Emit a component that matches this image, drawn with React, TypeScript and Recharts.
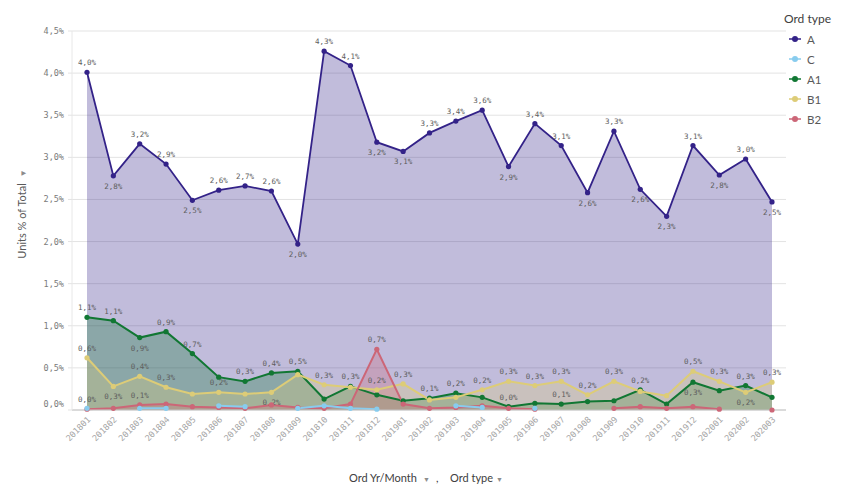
import React from 'react';
import { ComposedChart, Area, Line, XAxis, YAxis, CartesianGrid, Legend } from 'recharts';

const months = ['201801','201802','201803','201804','201805','201806','201807','201808','201809','201810','201811','201812','201901','201902','201903','201904','201905','201906','201907','201908','201909','201910','201911','201912','202001','202002','202003'];
const seriesA = [4.01,2.78,3.16,2.92,2.49,2.61,2.66,2.60,1.97,4.26,4.09,3.18,3.07,3.29,3.43,3.56,2.89,3.40,3.14,2.58,3.31,2.62,2.30,3.14,2.79,2.98,2.47];
const seriesC: (number | null)[] = [0.02,null,0.02,0.02,null,0.05,0.04,null,0.02,0.05,0.02,0.01,null,null,0.05,0.03,null,0.02,null,null,null,null,null,null,null,null,null];
const seriesA1 = [1.10,1.06,0.86,0.93,0.67,0.39,0.34,0.44,0.46,0.13,0.28,0.18,0.11,0.14,0.20,0.15,0.04,0.08,0.07,0.10,0.11,0.24,0.07,0.33,0.23,0.29,0.15];
const seriesB1 = [0.62,0.28,0.40,0.27,0.19,0.21,0.19,0.21,0.42,0.30,0.27,0.24,0.31,0.12,0.15,0.24,0.34,0.29,0.34,0.18,0.34,0.22,0.17,0.46,0.34,0.21,0.33];
const seriesB2: (number | null)[] = [0.01,0.02,0.06,0.07,0.04,0.03,0.02,0.06,0.03,0.02,0.07,0.72,0.07,0.02,0.03,0.05,0.02,0.01,null,null,0.02,0.04,0.02,0.04,0.01,null,0.0];
const yTicks = [0,0.5,1,1.5,2,2.5,3,3.5,4,4.5];

// which data labels are shown for the lower series: a = above, b = below
const labelsA1 = ['a','a','b','a','a','','a','a','a','','a','','','a','a','','a','','a','','','a','','b','','a',''];
const labelsB1 = ['a','b','a','a','','a','','b','','a','','a','a','','','a','a','a','a','a','a','','','a','a','b','a'];
const labelsB2 = ['a','','a','','','','','','','','','a','','','','','','','','','','','','','','',''];
const labelsC = months.map(() => '');

const seriesNames = ['A','C','A1','B1','B2'];
const drawOrder = ['A','A1','B1','B2','C'];
const colors: Record<string,string> = { A: '#332288', C: '#88ccee', A1: '#117733', B1: '#ddcc77', B2: '#cc6677' };

const data = months.map((m, i) => ({
  month: m,
  A: seriesA[i],
  C: seriesC[i],
  A1: seriesA1[i],
  B1: seriesB1[i],
  B2: seriesB2[i],
}));

const fmt = (v: number) => v.toFixed(1).replace('.', ',') + '%';

const placeA = (i: number) => {
  const v = seriesA[i];
  const p = seriesA[i - 1];
  const n = seriesA[i + 1];
  if (p === undefined) return v >= n ? 'a' : 'b';
  if (n === undefined) return v >= p ? 'a' : 'b';
  return v >= (p + n) / 2 ? 'a' : 'b';
};

const labelPlacement: Record<string, (i: number) => string> = {
  A: placeA,
  C: (i) => labelsC[i],
  A1: (i) => labelsA1[i],
  B1: (i) => labelsB1[i],
  B2: (i) => labelsB2[i],
};

const makeDot = (key: string) => (props: any) => {
  const { cx, cy, index, payload } = props;
  const v = payload ? payload[key] : null;
  if (v == null || cx == null || cy == null || Number.isNaN(cy)) return <g key={`d-${key}-${index}`} />;
  const pl = labelPlacement[key](index);
  return (
    <g key={`d-${key}-${index}`}>
      <circle cx={cx} cy={cy} r={2.6} fill={colors[key]} />
      {pl ? (
        <text
          x={cx}
          y={pl === 'a' ? cy - 7 : cy + 13}
          textAnchor="middle"
          fontFamily="'DejaVu Sans Mono', monospace"
          fontSize={7.5}
          fill="#5e5e5e"
        >
          {fmt(v)}
        </text>
      ) : null}
    </g>
  );
};

const YTick = (props: any) => {
  const { x, y, payload } = props;
  return (
    <text
      x={x}
      y={payload.value === 0 ? y - 6 : y}
      dy="0.35em"
      textAnchor="end"
      fontFamily="'DejaVu Sans Mono', monospace"
      fontSize={8.5}
      fill="#7a7a7a"
    >
      {fmt(payload.value)}
    </text>
  );
};

const XTick = (props: any) => {
  const { x, payload } = props;
  const ty = 418;
  return (
    <text
      x={x + 2}
      y={ty}
      dy="0.35em"
      textAnchor="end"
      transform={`rotate(-45 ${x + 2} ${ty})`}
      fontFamily="'DejaVu Sans Mono', monospace"
      fontSize={8.5}
      fill="#a6a6a6"
    >
      {payload.value}
    </text>
  );
};

const LegendContent = () => (
  <div style={{ fontFamily: 'Lato, sans-serif', color: '#595959' }}>
    <div style={{ fontSize: 12, color: '#404040', height: 20, lineHeight: '20px' }}>Ord type</div>
    {seriesNames.map((n) => (
      <div key={n} style={{ display: 'flex', alignItems: 'center', height: 20, fontSize: 11.5 }}>
        <svg width={14} height={10} style={{ marginLeft: 4, marginRight: 5 }}>
          <line x1={1} y1={5} x2={13} y2={5} stroke={colors[n]} strokeWidth={1.5} />
          <circle cx={7} cy={5} r={3} fill={colors[n]} />
        </svg>
        <span>{n}</span>
      </div>
    ))}
  </div>
);

const YTitle = () => (
  <text
    transform="translate(26 214) rotate(-90)"
    textAnchor="middle"
    fontFamily="Lato, sans-serif"
    fontSize={11}
    fill="#595959"
  >
    Units % of Total<tspan fontSize={8} fill="#8c8c8c" dx={6}>▼</tspan>
  </text>
);

const XTitle = () => (
  <text y={482} fontFamily="Lato, sans-serif" fontSize={11} fill="#404040">
    <tspan x={349}>Ord Yr/Month</tspan>
    <tspan x={423} fontSize={7} fill="#8c8c8c">▼</tspan>
    <tspan x={436}>,</tspan>
    <tspan x={450}>Ord type</tspan>
    <tspan x={496} fontSize={7} fill="#8c8c8c">▼</tspan>
  </text>
);

export default function App() {
  return (
    <div style={{ position: 'absolute', left: 0, top: 0, width: 855, height: 500, background: '#fff' }}>
      <ComposedChart width={855} height={500} data={data} margin={{ top: 31, right: 69, left: 0, bottom: 0 }}>
        <CartesianGrid vertical={false} stroke="#e3e3e3" />
        <XAxis
          dataKey="month"
          scale="point"
          padding={{ left: 15, right: 14 }}
          height={90}
          interval={0}
          tick={<XTick />}
          tickLine={false}
          axisLine={{ stroke: '#c4c4c4' }}
          label={<XTitle />}
        />
        <YAxis
          width={72}
          domain={[0, 4.5]}
          ticks={yTicks}
          type="number"
          tick={<YTick />}
          tickSize={4}
          tickMargin={4}
          tickLine={{ stroke: '#e3e3e3' }}
          axisLine={{ stroke: '#e8e8e8' }}
          label={<YTitle />}
        />
        {seriesNames.map((n) => (
          <Area
            key={`area-${n}`}
            type="linear"
            dataKey={n}
            stroke="none"
            fill={colors[n]}
            fillOpacity={0.3}
            dot={false}
            activeDot={false}
            legendType="none"
            isAnimationActive={false}
          />
        ))}
        {drawOrder.map((n) => (
          <Line
            key={`line-${n}`}
            type="linear"
            dataKey={n}
            stroke={colors[n]}
            strokeWidth={n === 'A' ? 1.8 : 2}
            dot={makeDot(n)}
            activeDot={false}
            isAnimationActive={false}
          />
        ))}
        <Legend
          layout="vertical"
          align="center"
          verticalAlign="middle"
          content={<LegendContent />}
          wrapperStyle={{ left: 784, top: 9, width: 70, height: 125 }}
        />
      </ComposedChart>
    </div>
  );
}
